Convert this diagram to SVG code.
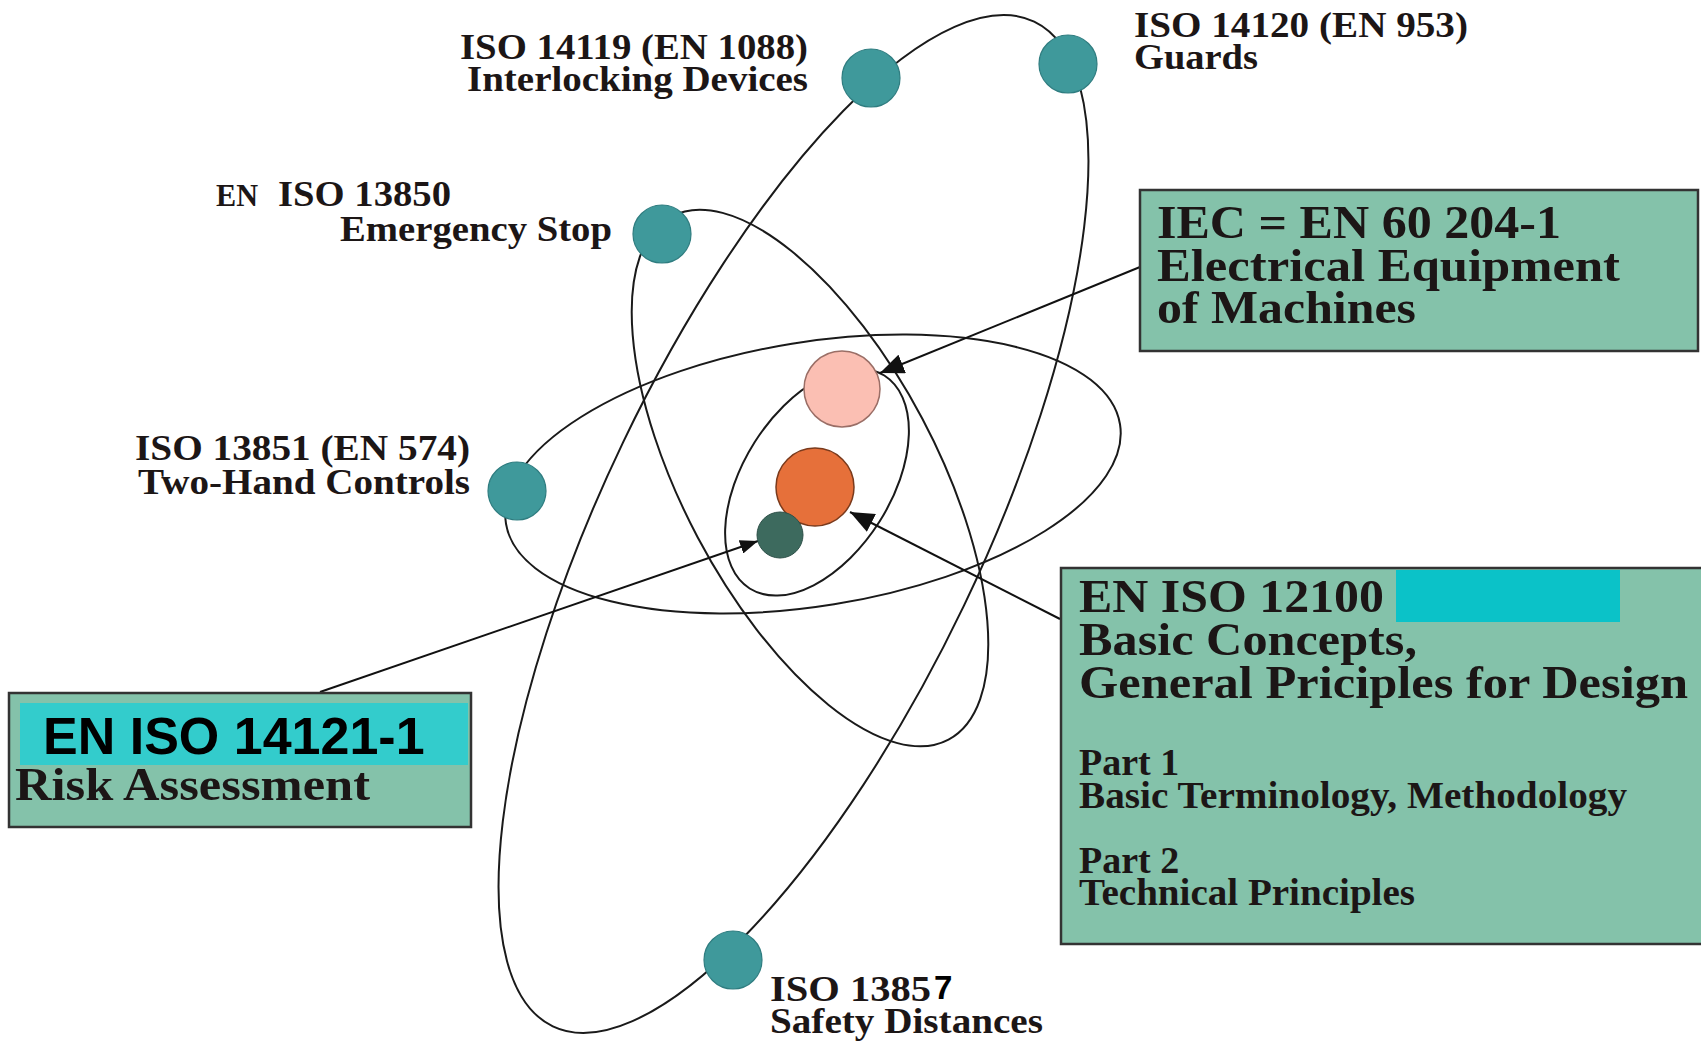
<svg xmlns="http://www.w3.org/2000/svg" width="1701" height="1044" viewBox="0 0 1701 1044">
  <style>
    .orbit { fill: none; stroke: #1a1a1a; stroke-width: 2; }
    .electron { fill: #3f999b; stroke: #2f7d80; stroke-width: 1.2; }
    .label { font-family: "Liberation Serif", "Times New Roman", serif; font-weight: bold; fill: #1c1616; }
    .lbl { font-size: 36px; }
    .big { font-size: 47px; }
    .part { font-size: 38px; }
    .stamp { font-family: "Liberation Sans", Arial, sans-serif; font-weight: bold; fill: #000; }
    .box { fill: #84c2aa; stroke: #333; stroke-width: 2.5; }
    .conn { fill: none; stroke: #111; stroke-width: 2; }
  </style>
  <defs>
    <marker id="headL" viewBox="0 0 24 20" refX="24" refY="10" markerWidth="24" markerHeight="20" markerUnits="userSpaceOnUse" orient="auto">
      <path d="M0,0 L24,10 L0,20 z" fill="#111"/>
    </marker>
    <marker id="headS" viewBox="0 0 18 14" refX="18" refY="7" markerWidth="18" markerHeight="14" markerUnits="userSpaceOnUse" orient="auto">
      <path d="M0,0 L18,7 L0,14 z" fill="#111"/>
    </marker>
  </defs>

  <rect width="1701" height="1044" fill="#fff"/>

  <!-- orbits -->
  <g id="orbits">
    <ellipse class="orbit" cx="813" cy="474" rx="311" ry="132" transform="rotate(-9.2 813 474)"/>
    <ellipse class="orbit" cx="793.5" cy="524" rx="557" ry="189" transform="rotate(-64.4 793.5 524)"/>
    <ellipse class="orbit" cx="810" cy="478" rx="296" ry="127" transform="rotate(62.1 810 478)"/>
    <ellipse class="orbit" cx="817" cy="482" rx="126" ry="74" transform="rotate(-57.7 817 482)"/>
  </g>

  <!-- connectors -->
  <g id="connectors">
    <line class="conn" x1="1140" y1="267" x2="880" y2="373" marker-end="url(#headL)"/>
    <line class="conn" x1="1060" y1="619" x2="850" y2="512" marker-end="url(#headL)"/>
    <line class="conn" x1="320" y1="692" x2="758" y2="541" stroke-width="2.4" marker-end="url(#headS)"/>
  </g>

  <!-- nucleus -->
  <g id="nucleus-pink"><circle cx="842" cy="389" r="38" fill="#fbbfb3" stroke="#9a6e66" stroke-width="1.5"/></g>
  <g id="nucleus-orange"><circle cx="815" cy="487" r="39" fill="#e6703a" stroke="#7a3a1c" stroke-width="1.5"/></g>
  <g id="nucleus-green"><circle cx="780" cy="535" r="23" fill="#3d6a5e" stroke="#2d5048" stroke-width="1"/></g>

  <!-- electrons with labels -->
  <g id="interlocking">
    <circle class="electron" cx="871" cy="78" r="29"/>
    <text class="label lbl" x="460" y="59" textLength="348" lengthAdjust="spacingAndGlyphs">ISO 14119 (EN 1088)</text>
    <text class="label lbl" x="467" y="91" textLength="341" lengthAdjust="spacingAndGlyphs">Interlocking Devices</text>
  </g>

  <g id="guards">
    <circle class="electron" cx="1068" cy="64" r="29"/>
    <text class="label lbl" x="1134" y="37" textLength="334" lengthAdjust="spacingAndGlyphs">ISO 14120 (EN 953)</text>
    <text class="label lbl" x="1134" y="69" textLength="124" lengthAdjust="spacingAndGlyphs">Guards</text>
  </g>

  <g id="emergency-stop">
    <circle class="electron" cx="662" cy="234" r="29"/>
    <text class="label" x="216" y="206" font-size="32" textLength="42" lengthAdjust="spacingAndGlyphs">EN</text>
    <text class="label lbl" x="278" y="206" textLength="173" lengthAdjust="spacingAndGlyphs">ISO 13850</text>
    <text class="label lbl" x="340" y="241" textLength="272" lengthAdjust="spacingAndGlyphs">Emergency Stop</text>
  </g>

  <g id="two-hand">
    <circle class="electron" cx="517" cy="491" r="29"/>
    <text class="label lbl" x="135" y="460" textLength="335" lengthAdjust="spacingAndGlyphs">ISO 13851 (EN 574)</text>
    <text class="label lbl" x="138" y="494" textLength="332" lengthAdjust="spacingAndGlyphs">Two-Hand Controls</text>
  </g>

  <g id="safety-distances">
    <circle class="electron" cx="733" cy="960" r="29"/>
    <text class="label lbl" x="770" y="1001" textLength="161" lengthAdjust="spacingAndGlyphs">ISO 1385</text>
    <text class="stamp" x="934" y="999" font-size="33">7</text>
    <text class="label lbl" x="770" y="1033" textLength="273" lengthAdjust="spacingAndGlyphs">Safety Distances</text>
  </g>

  <!-- standard boxes -->
  <g id="electrical-equipment">
    <rect class="box" x="1140" y="190" width="558" height="161"/>
    <text class="label big" x="1157" y="238" textLength="404" lengthAdjust="spacingAndGlyphs">IEC = EN 60 204-1</text>
    <text class="label big" x="1157" y="281" textLength="463" lengthAdjust="spacingAndGlyphs">Electrical Equipment</text>
    <text class="label big" x="1157" y="323" textLength="259" lengthAdjust="spacingAndGlyphs">of Machines</text>
  </g>

  <g id="basic-concepts">
    <rect class="box" x="1061" y="568" width="642" height="376"/>
    <rect x="1396" y="570" width="224" height="52" fill="#0bc2c8"/>
    <text class="label big" x="1079" y="612" textLength="305" lengthAdjust="spacingAndGlyphs">EN ISO 12100</text>
    <text class="label big" x="1079" y="655" textLength="338" lengthAdjust="spacingAndGlyphs">Basic Concepts,</text>
    <text class="label big" x="1079" y="698" textLength="609" lengthAdjust="spacingAndGlyphs">General Priciples for Design</text>
    <text class="label part" x="1079" y="775">Part 1</text>
    <text class="label part" x="1079" y="808" textLength="548" lengthAdjust="spacingAndGlyphs">Basic Terminology, Methodology</text>
    <text class="label part" x="1079" y="873">Part 2</text>
    <text class="label part" x="1079" y="905" textLength="336" lengthAdjust="spacingAndGlyphs">Technical Principles</text>
  </g>

  <g id="risk-assessment">
    <rect class="box" x="9" y="693" width="462" height="134"/>
    <rect x="20" y="703" width="448" height="62" fill="#33cccc"/>
    <text class="stamp" x="43" y="754" font-size="52">EN ISO 14121-1</text>
    <text class="label big" x="15" y="800" textLength="355" lengthAdjust="spacingAndGlyphs">Risk Assessment</text>
  </g>
</svg>
